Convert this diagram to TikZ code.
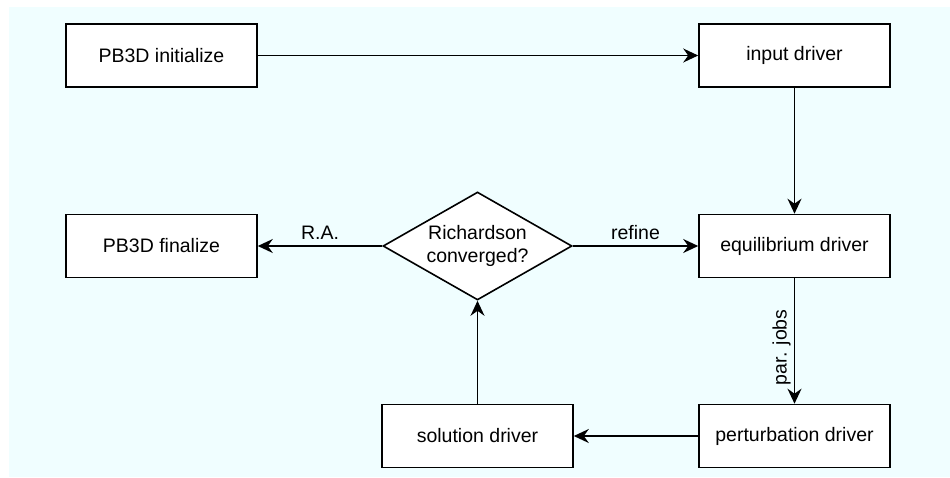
\documentclass[tikz,border=0pt]{standalone}
\usepackage{fontspec}
\setmainfont{Liberation Sans}
\usetikzlibrary{positioning,arrows.meta,shapes.geometric}
\definecolor{pbback}{HTML}{F0FEFF}

\begin{document}
\begin{tikzpicture}[x=1pt,y=-1pt,
    box/.style={draw,fill=white,line width=1.6pt,minimum width=191pt,minimum height=63pt,inner sep=0pt,font=\fontsize{19.5}{23}\selectfont},
    flow/.style={-{Stealth[length=15pt,width=14pt,inset=5pt]},line width=1.6pt},
    lbl/.style={font=\fontsize{19.5}{23}\selectfont}]
    \useasboundingbox (0,0) rectangle (950,477);
    \fill[pbback] (9,7) rectangle (950,477);
    % boxes
    \node[box] (init) at (161.5,55.5) {PB3D initialize};
    \node[box] (input) at (794.5,55.5) {input driver};
    \node[box] (equil) at (794.5,246) {equilibrium driver};
    \node[box] (final) at (161.5,246) {PB3D finalize};
    \node[box] (solve) at (477.5,436) {solution driver};
    \node[box] (pert) at (794.5,436) {perturbation driver};
    \node[draw,fill=white,diamond,aspect=1.75,line width=1.6pt,minimum width=189pt,minimum height=108pt,inner sep=0pt,align=center,font=\fontsize{19.5}{23}\selectfont] (conv) at (477.5,246) {Richardson\\converged?};
    % connectors
    \draw[flow] (init) -- (input);
    \draw[flow] (input) -- (equil);
    \draw[flow] (conv) -- node[lbl,above=2pt] {refine} (equil);
    \draw[flow] (conv) -- node[lbl,above=2pt] {R.A.} (final);
    \draw[flow] (pert) -- (solve);
    \draw[flow] (solve) -- (conv);
    \draw[flow,{Stealth[length=15pt,width=14pt,inset=5pt]}-] (pert) -- node[lbl,pos=0.45,sloped,above,inner sep=3pt] {par. jobs} (equil);
\end{tikzpicture}
\end{document}
